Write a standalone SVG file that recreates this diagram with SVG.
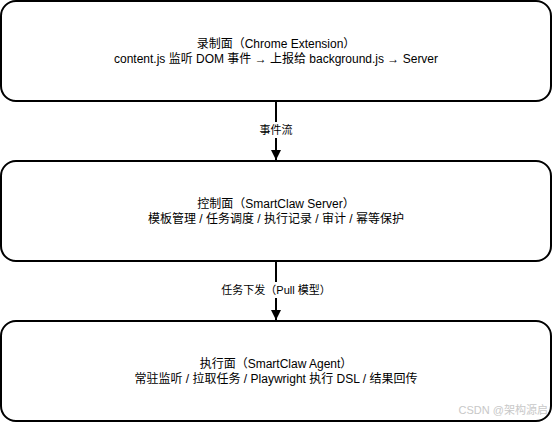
<svg xmlns="http://www.w3.org/2000/svg" width="552" height="422" viewBox="0 0 552 422">
<style>
.box{fill:#fff;stroke:#000;stroke-width:2}
.t{font-family:"Liberation Sans","Noto Sans CJK SC",Arial,sans-serif;font-size:12px;fill:#000;text-anchor:middle}
.lbl{font-family:"Liberation Sans","Noto Sans CJK SC",Arial,sans-serif;font-size:11px;fill:#000;text-anchor:middle}
.edge{stroke:#000;stroke-width:2;fill:none}
.wm{font-family:"Liberation Sans","Noto Sans CJK SC",Arial,sans-serif;font-size:11px;fill:#c8c8c8;text-anchor:end}
</style>
<defs>
<marker id="arr" viewBox="0 0 10 10" refX="10" refY="5" markerWidth="5" markerHeight="5" orient="auto" markerUnits="strokeWidth">
<path d="M0,0 L10,5 L0,10 z" fill="#000"/>
</marker>
</defs>
<rect width="552" height="422" fill="#fff"/>
<g id="connectors">
<path class="edge" d="M276,101 L276,160" marker-end="url(#arr)"/>
<rect x="245" y="122" width="62" height="16" fill="#fff"/>
<text class="lbl" x="276" y="134">事件流</text>
<path class="edge" d="M276,261 L276,320" marker-end="url(#arr)"/>
<rect x="218" y="282" width="116" height="16" fill="#fff"/>
<text class="lbl" x="276" y="294">任务下发（Pull 模型）</text>
</g>
<g id="node-record">
<rect class="box" x="1" y="1" width="550" height="100" rx="15" ry="15"/>
<text class="t" x="276" y="48">录制面（Chrome Extension）</text>
<text class="t" x="276" y="63">content.js 监听 DOM 事件 → 上报给 background.js → Server</text>
</g>
<g id="node-control">
<rect class="box" x="1" y="161" width="550" height="100" rx="15" ry="15"/>
<text class="t" x="276" y="208">控制面（SmartClaw Server）</text>
<text class="t" x="276" y="223">模板管理 / 任务调度 / 执行记录 / 审计 / 幂等保护</text>
</g>
<g id="node-exec">
<rect class="box" x="1" y="321" width="550" height="100" rx="15" ry="15"/>
<text class="t" x="276" y="368">执行面（SmartClaw Agent）</text>
<text class="t" x="276" y="383">常驻监听 / 拉取任务 / Playwright 执行 DSL / 结果回传</text>
</g>
<text class="wm" x="548" y="414">CSDN @架构源启</text>
</svg>
